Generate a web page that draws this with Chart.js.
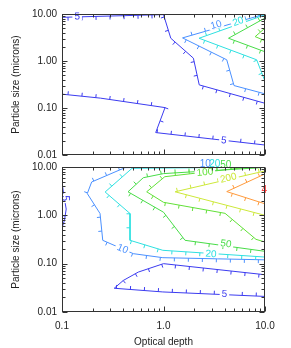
<!DOCTYPE html>
<html>
<head>
<meta charset="utf-8">
<script src="https://cdn.jsdelivr.net/npm/chart.js@4.4.0/dist/chart.umd.min.js"></script>
<style>
  html, body { margin: 0; padding: 0; background: #fff; }
  #wrap { position: relative; width: 291px; height: 348px; overflow: hidden; }
  canvas { position: absolute; left: 0; }
  #top { top: 0; }
  #bottom { top: 150px; }
</style>
</head>
<body>
<div id="wrap">
  <canvas id="top" width="291" height="175"></canvas>
  <canvas id="bottom" width="291" height="198"></canvas>
</div>
<script>
// contour lines: optical depth (x) vs particle size in microns (y)

// upper panel
const topC5aTau   = [0.1, 1.0, 1.18, 1.97, 2.25, 10];
const topC5aSize  = [8.5, 9.7, 3.05, 1.15, 0.31, 0.126];
const topC5bTau   = [0.1, 0.24, 1.035, 0.838, 10];
const topC5bSize  = [0.197, 0.162, 0.102, 0.030, 0.0163];
const topC10Tau   = [10, 1.54, 4.2, 4.95, 10];
const topC10Size  = [10, 3.1, 1.06, 0.30, 0.2];
const topC20Tau   = [10, 2.24, 8.28, 10];
const topC20Size  = [9.6, 3.05, 1.06, 0.37];
const topC50Tau   = [10, 4.37, 10];
const topC50Size  = [8.2, 3.05, 1.57];
const topC100Tau  = [10, 8.0, 10];
const topC100Size = [5.0, 3.3, 2.7];

// lower panel
const botC5aTau   = [0.1, 0.104, 0.110, 0.106, 0.1];
const botC5aSize  = [4.8, 2.7, 1.35, 0.8, 0.55];
const botC5bTau   = [10, 1.0, 0.565, 0.402, 0.327, 0.985, 10];
const botC5bSize  = [0.059, 0.100, 0.067, 0.045, 0.031, 0.026, 0.021];
const botC10Tau   = [10, 0.418, 0.196, 0.1775, 0.237, 0.252, 0.504, 0.985, 10];
const botC10Size  = [9.95, 9.7, 4.9, 2.82, 1.09, 0.304, 0.161, 0.133, 0.12];
const botC20Tau   = [10, 0.49, 0.266, 0.468, 0.468, 0.985, 10];
const botC20Size  = [9.9, 9.4, 3.04, 1.09, 0.304, 0.189, 0.137];
const botC50Tau   = [10, 1.0, 0.632, 0.447, 1.0, 1.63, 10];
const botC50Size  = [9.8, 7.3, 6.0, 3.07, 1.16, 0.304, 0.18];
const botC100Tau  = [10, 5.42, 1.03, 0.683, 1.0, 4.04, 8.15, 10];
const botC100Size = [9.86, 9.4, 6.3, 3.07, 1.86, 1.1, 0.319, 0.28];
const botC200Tau  = [10, 1.30, 10];
const botC200Size = [8.3, 3.07, 1.0];
const botC400Tau  = [10, 4.2, 10];
const botC400Size = [7.2, 3.1, 1.73];

const xTickLabels = ['0.1', '1.0', '10.0'];
const yTickLabels = ['0.01', '0.10', '1.00', '10.00'];

const C5 = '#3b3bf0', C10 = '#4a90ff', C20 = '#2ee0e0', C50 = '#48dc48',
      C100 = '#62e038', C200 = '#cde83a', C400 = '#ff9a3c', CRED = '#ff3a3a';

// where the level numbers sit on the lines
const topLabels = [
  { text: '5',  tau: 0.141, size: 8.98,   angle: -1,  color: C5,  gap: true },
  { text: '5',  tau: 3.94,  size: 0.0209, angle: 6,   color: C5,  gap: true },
  { text: '10', tau: 3.29,  size: 5.92,   angle: -16, color: C10, gap: true },
  { text: '20', tau: 5.42,  size: 7.02,   angle: -20, color: C20, gap: true }
];
const bottomLabels = [
  { text: '5',   tau: 0.107, size: 2.25,  angle: 90,  color: C5,   gap: true },
  { text: '10',  tau: 0.396, size: 0.205, angle: 23,  color: C10,  gap: true },
  { text: '20',  tau: 2.94,  size: 0.161, angle: 4,   color: C20,  gap: true },
  { text: '50',  tau: 4.13,  size: 0.26,  angle: 8,   color: C50,  gap: true },
  { text: '5',   tau: 3.99,  size: 0.024, angle: 3,   color: C5,   gap: true },
  { text: '100', tau: 2.56,  size: 7.89,  angle: -6,  color: C100, gap: true },
  { text: '200', tau: 4.35,  size: 5.98,  angle: -13, color: C200, gap: true },
  { text: '10',  tau: 2.58,  size: 11.4,  angle: 0,   color: C10 },
  { text: '20',  tau: 3.2,   size: 11.4,  angle: 0,   color: C20 },
  { text: '50',  tau: 4.1,   size: 11.0,  angle: 0,   color: C50 },
  { text: '4',   tau: 9.84,  size: 3.34,  angle: 0,   color: CRED }
];

Chart.defaults.font.family = '"Liberation Sans", Arial, Helvetica, sans-serif';
Chart.defaults.font.size = 10;
Chart.defaults.color = '#222';

const isDecade = v => Math.abs(Math.log10(v) - Math.round(Math.log10(v))) < 1e-6;
const decadeIndex = (v, min) => Math.round(Math.log10(v) - Math.log10(min));

function contour(tau, size, color, side) {
  return {
    data: tau.map((t, i) => ({ x: t, y: size[i] })),
    borderColor: color,
    borderWidth: 1,
    pointRadius: 0,
    showLine: true,
    tension: 0,
    side: side // which way the downhill ticks point
  };
}

function logSteps(min, max) {
  const out = [];
  for (let e = Math.floor(Math.log10(min)); e <= Math.ceil(Math.log10(max)); e++) {
    for (let k = 1; k < 10; k++) {
      const v = k * Math.pow(10, e);
      if (v >= min * 0.999 && v <= max * 1.001) out.push({ v, major: k === 1 });
    }
  }
  return out;
}

function decor(labels) {
  return {
    id: 'decor',
    afterDatasetsDraw(chart) {
      const { ctx, chartArea: a } = chart;
      const xs = chart.scales.x, ys = chart.scales.y;
      ctx.save();
      ctx.beginPath();
      ctx.rect(a.left, a.top, a.right - a.left, a.bottom - a.top);
      ctx.clip();
      ctx.lineWidth = 1;
      chart.data.datasets.forEach(ds => {
        const pts = ds.data.map(p => [xs.getPixelForValue(p.x), ys.getPixelForValue(p.y)]);
        let next = 6, run = 0;
        ctx.strokeStyle = ds.borderColor;
        ctx.beginPath();
        for (let i = 0; i < pts.length - 1; i++) {
          const [x0, y0] = pts[i], [x1, y1] = pts[i + 1];
          const dx = x1 - x0, dy = y1 - y0, len = Math.hypot(dx, dy);
          while (next <= run + len) {
            const t = (next - run) / len;
            const px = x0 + dx * t, py = y0 + dy * t;
            ctx.moveTo(px, py);
            ctx.lineTo(px - dy / len * ds.side * 3.5, py + dx / len * ds.side * 3.5);
            next += 14;
          }
          run += len;
        }
        ctx.stroke();
      });
      ctx.restore();

      ctx.save();
      ctx.font = '10px "Liberation Sans", Arial, sans-serif';
      ctx.textAlign = 'center';
      ctx.textBaseline = 'middle';
      labels.forEach(l => {
        ctx.save();
        ctx.translate(xs.getPixelForValue(l.tau), ys.getPixelForValue(l.size));
        ctx.rotate(l.angle * Math.PI / 180);
        const w = ctx.measureText(l.text).width;
        if (l.gap) {
          ctx.fillStyle = '#fff';
          ctx.fillRect(-w / 2 - 2, -4, w + 4, 8);
        }
        ctx.fillStyle = l.color;
        ctx.fillText(l.text, 0, 0.5);
        ctx.restore();
      });
      ctx.restore();
    },
    afterDraw(chart) {
      // box with inward ticks on all four sides
      const { ctx, chartArea: a } = chart;
      const xs = chart.scales.x, ys = chart.scales.y;
      const L = Math.round(a.left) + 0.5, R = Math.round(a.right) - 0.5;
      const T = Math.round(a.top) + 0.5, B = Math.round(a.bottom) - 0.5;
      ctx.save();
      ctx.strokeStyle = '#333';
      ctx.lineWidth = 1;
      ctx.strokeRect(L, T, R - L, B - T);
      ctx.beginPath();
      logSteps(xs.min, xs.max).forEach(t => {
        const x = Math.round(xs.getPixelForValue(t.v)) + 0.5, len = t.major ? 5 : 3;
        ctx.moveTo(x, B); ctx.lineTo(x, B - len);
        ctx.moveTo(x, T); ctx.lineTo(x, T + len);
      });
      logSteps(ys.min, ys.max).forEach(t => {
        const y = Math.round(ys.getPixelForValue(t.v)) + 0.5, len = t.major ? 5 : 3;
        ctx.moveTo(L, y); ctx.lineTo(L + len, y);
        ctx.moveTo(R, y); ctx.lineTo(R - len, y);
      });
      ctx.stroke();
      ctx.restore();
    }
  };
}

function panel(id, datasets, labels, withX, padTop, xHeight) {
  return new Chart(document.getElementById(id), {
    type: 'scatter',
    data: { datasets },
    options: {
      responsive: false,
      animation: false,
      devicePixelRatio: 1,
      layout: { padding: { top: padTop, right: 26, left: 0, bottom: 0 } },
      plugins: { legend: { display: false }, tooltip: { enabled: false } },
      scales: {
        x: {
          type: 'logarithmic', min: 0.1, max: 10,
          grid: { display: false, drawTicks: false },
          border: { display: false },
          ticks: {
            display: withX, autoSkip: false, maxRotation: 0, padding: 8,
            callback: v => isDecade(v) ? xTickLabels[decadeIndex(v, 0.1)] : ''
          },
          title: { display: withX, text: 'Optical depth', padding: 0 },
          afterFit: s => { s.height = xHeight; }
        },
        y: {
          type: 'logarithmic', min: 0.01, max: 10,
          grid: { display: false, drawTicks: false },
          border: { display: false },
          ticks: {
            autoSkip: false, padding: 5,
            callback: v => isDecade(v) ? yTickLabels[decadeIndex(v, 0.01)] : ''
          },
          title: { display: true, text: 'Particle size (microns)', padding: { top: 10, bottom: 0 } },
          afterFit: s => { s.width = 62; }
        }
      }
    },
    plugins: [decor(labels)]
  });
}

panel('top', [
  contour(topC5aTau, topC5aSize, C5, 1),
  contour(topC5bTau, topC5bSize, C5, -1),
  contour(topC10Tau, topC10Size, C10, 1),
  contour(topC20Tau, topC20Size, C20, 1),
  contour(topC50Tau, topC50Size, C50, 1),
  contour(topC100Tau, topC100Size, C100, 1)
], topLabels, false, 14, 20);

panel('bottom', [
  contour(botC5aTau, botC5aSize, C5, 1),
  contour(botC5bTau, botC5bSize, C5, -1),
  contour(botC10Tau, botC10Size, C10, 1),
  contour(botC20Tau, botC20Size, C20, 1),
  contour(botC50Tau, botC50Size, C50, 1),
  contour(botC100Tau, botC100Size, C100, 1),
  contour(botC200Tau, botC200Size, C200, 1),
  contour(botC400Tau, botC400Size, C400, 1)
], bottomLabels, true, 17, 36);
</script>
</body>
</html>
